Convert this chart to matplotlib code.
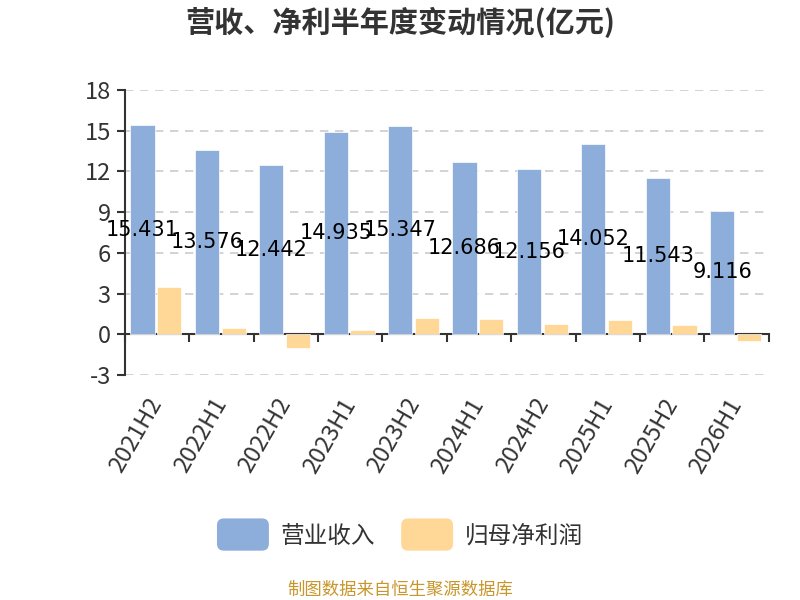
import matplotlib.pyplot as plt
import numpy as np
from matplotlib.patches import FancyBboxPatch, Patch
from matplotlib.legend_handler import HandlerPatch

plt.rcParams["font.family"] = ["Noto Sans CJK SC", "DejaVu Sans"]
plt.rcParams["axes.unicode_minus"] = False

# 数据
periods = ["2021H2", "2022H1", "2022H2", "2023H1", "2023H2",
           "2024H1", "2024H2", "2025H1", "2025H2", "2026H1"]
revenue = [15.431, 13.576, 12.442, 14.935, 15.347,
           12.686, 12.156, 14.052, 11.543, 9.116]
net_profit = [3.46, 0.50, -0.98, 0.35, 1.21, 1.11, 0.78, 1.08, 0.71, -0.50]
y_ticks = [-3, 0, 3, 6, 9, 12, 15, 18]

blue = "#8DADDA"
orange = "#FFD898"
dark = "#333333"

fig = plt.figure(figsize=(8, 6), dpi=100)
ax = fig.add_axes([0.156, 0.375, 0.805, 0.475])

x = np.arange(len(periods))
w = 0.375
ax.bar(x - 0.225, revenue, w, color=blue, edgecolor="white", linewidth=0.5,
       zorder=3)
ax.bar(x + 0.19, net_profit, w, color=orange, edgecolor="white", linewidth=0.5,
       zorder=3)

# 数值标签（放在柱子中部）
for xi, v in zip(x, revenue):
    ax.text(xi - 0.225, v / 2, f"{v:.3f}", ha="center", va="center",
            fontsize=15, color="black", family="DejaVu Sans", zorder=4)

ax.set_xlim(-0.5, len(periods) - 0.5)
ax.set_ylim(-3, 18)
ax.set_yticks(y_ticks)
ax.tick_params(axis="y", labelsize=17, colors=dark, length=6, width=1.5, pad=4)
ax.grid(axis="y", linestyle=(0, (5, 4)), color="#cccccc", linewidth=1.2, zorder=0)

for s in ["top", "right"]:
    ax.spines[s].set_visible(False)
ax.spines["left"].set_color(dark)
ax.spines["left"].set_linewidth(1.5)
ax.spines["bottom"].set_position(("data", 0))
ax.spines["bottom"].set_color(dark)
ax.spines["bottom"].set_linewidth(1.5)

# 分类边界刻度
ax.set_xticks(np.arange(len(periods) + 1) - 0.5)
ax.set_xticklabels([])
ax.tick_params(axis="x", length=6, width=1.5, colors=dark)

# 分类标签放在坐标区底部
sec = ax.secondary_xaxis(0)
sec.set_xticks(x)
sec.set_xticklabels(periods, rotation=60, ha="right", va="center",
                    rotation_mode="anchor", fontsize=17, color=dark)
sec.tick_params(length=0, pad=18)
sec.spines["bottom"].set_visible(False)

# 标题
fig.text(0.5, 0.962, "营收、净利半年度变动情况(亿元)", ha="center", va="center",
         fontsize=21, fontweight="bold", color=dark)


class RoundHandler(HandlerPatch):
    def create_artists(self, legend, orig_handle, xdescent, ydescent,
                       width, height, fontsize, trans):
        p = FancyBboxPatch((-xdescent, -ydescent - 4), width, height + 8,
                           boxstyle="round,pad=0,rounding_size=5",
                           facecolor=orig_handle.get_facecolor(),
                           edgecolor="none", transform=trans)
        return [p]


handles = [Patch(facecolor=blue), Patch(facecolor=orange)]
labels = ["营业收入", "归母净利润"]
fig.legend(handles, labels, loc="center", bbox_to_anchor=(0.5, 0.107),
           ncol=2, frameon=False, fontsize=17, handlelength=2.2,
           handleheight=1.0, handletextpad=0.5, columnspacing=1.1,
           labelcolor=dark,
           handler_map={Patch: RoundHandler()})

# 数据来源
fig.text(0.5, 0.017, "制图数据来自恒生聚源数据库", ha="center", va="center",
         fontsize=12.5, color="#C8962A")

fig.savefig("out.png", dpi=100)
